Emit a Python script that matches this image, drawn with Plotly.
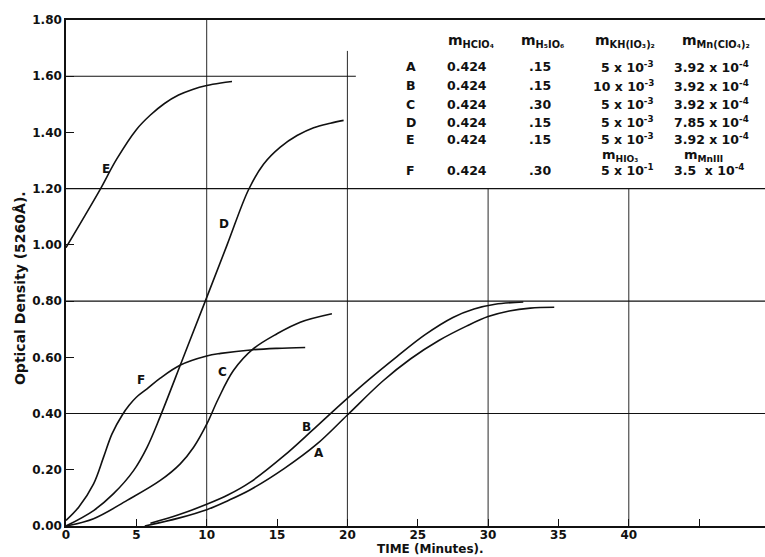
import plotly.graph_objects as go

# ---------------- data ----------------
tA = [5.6, 8, 10, 11.5, 13.1, 15.5, 17.8, 20, 22.5, 24.5, 26.5, 28.5, 30, 31.5, 33, 34.7]
yA = [0.0, 0.028, 0.058, 0.09, 0.129, 0.204, 0.29, 0.395, 0.515, 0.595, 0.66, 0.712, 0.745, 0.765, 0.775, 0.778]

tB = [6.0, 8, 10, 11.5, 13.1, 15.5, 17.5, 19.5, 21.5, 23.5, 25.5, 27.5, 29, 30.5, 32.5]
yB = [0.01, 0.04, 0.077, 0.11, 0.156, 0.25, 0.34, 0.432, 0.52, 0.602, 0.68, 0.742, 0.772, 0.789, 0.797]

tC = [0, 1.96, 4.34, 6.7, 8.12, 9.07, 10.02, 10.8, 11.9, 13.3, 15, 16.65, 18.9]
yC = [0.0, 0.026, 0.091, 0.162, 0.221, 0.28, 0.364, 0.45, 0.553, 0.63, 0.684, 0.725, 0.755]

tD = [0, 1.96, 3.38, 4.8, 5.76, 6.7, 8.3, 9.9, 11.45, 12.98, 14.05, 15.23, 16.42, 17.6, 18.79, 19.73]
yD = [0.0, 0.055, 0.115, 0.197, 0.28, 0.39, 0.595, 0.80, 1.0, 1.197, 1.288, 1.348, 1.389, 1.417, 1.433, 1.443]

tE = [0, 1, 2.4, 3.6, 5, 6, 7, 8, 9, 10, 11, 11.8]
yE = [0.99, 1.075, 1.195, 1.305, 1.41, 1.462, 1.503, 1.533, 1.553, 1.567, 1.576, 1.581]

tF = [0, 0.9, 1.96, 2.67, 3.27, 4.0, 4.5, 5.0, 5.76, 6.7, 8.1, 10.0, 11.0, 13.3, 15, 17]
yF = [0.02, 0.067, 0.15, 0.245, 0.328, 0.395, 0.43, 0.458, 0.488, 0.526, 0.572, 0.605, 0.614, 0.627, 0.632, 0.635]

curve_names = ["A", "B", "C", "D", "E", "F"]
label_t = [18.0, 17.1, 11.1, 11.2, 2.86, 5.3]
label_y = [0.259, 0.351, 0.547, 1.075, 1.271, 0.518]

y_tick_vals = [0.0, 0.2, 0.4, 0.6, 0.8, 1.0, 1.2, 1.4, 1.6, 1.8]
y_tick_text = ["0.00", "0.20", "0.40", "0.60", "0.80", "1.00", "1.20", "1.40", "1.60", "1.80"]
x_tick_vals = [0, 5, 10, 15, 20, 25, 30, 35, 40, 45]
x_tick_text = ["0", "5", "10", "15", "20", "25", "30", "35", "40", ""]

# conditions table
table_rows = ["A", "B", "C", "D", "E", "F"]
col_hclo4 = ["0.424", "0.424", "0.424", "0.424", "0.424", "0.424"]
col_h5io6 = [".15", ".15", ".30", ".15", ".15", ".30"]
col_kh = ["5 x 10<sup>-3</sup>", "10 x 10<sup>-3</sup>", "5 x 10<sup>-3</sup>",
          "5 x 10<sup>-3</sup>", "5 x 10<sup>-3</sup>", "5 x 10<sup>-1</sup>"]
col_mn = ["3.92 x 10<sup>-4</sup>", "3.92 x 10<sup>-4</sup>", "3.92 x 10<sup>-4</sup>",
          "7.85 x 10<sup>-4</sup>", "3.92 x 10<sup>-4</sup>", "3.5\u00a0\u00a0x 10<sup>-4</sup>"]
headers = ["m<sub>HClO₄</sub>", "m<sub>H₅IO₆</sub>", "m<sub>KH(IO₃)₂</sub>", "m<sub>Mn(ClO₄)₂</sub>"]
sub_headers = ["m<sub>HIO₃</sub>", "m<sub>MnIII</sub>"]

# ---------------- layout helpers ----------------
X_MAX = 49.68
FONT = "DejaVu Sans"
black = "#111111"

fig = go.Figure()
series = [(tA, yA), (tB, yB), (tC, yC), (tD, yD), (tE, yE), (tF, yF)]
for name, (t, y) in zip(curve_names, series):
    fig.add_trace(go.Scatter(x=t, y=y, mode="lines", name=name,
                             line=dict(color=black, width=1.6, shape="spline", smoothing=1.0),
                             showlegend=False, hoverinfo="skip"))

shapes = []
for yv, x0, x1 in [(0.4, 0, X_MAX), (0.8, 0, X_MAX), (1.2, 0, X_MAX), (1.6, 0, 20.6)]:
    shapes.append(dict(type="line", xref="x", yref="y", x0=x0, x1=x1, y0=yv, y1=yv,
                       line=dict(color=black, width=1.1), layer="below"))
for xv, y0, y1 in [(10, 0, 1.8), (20, 0, 1.69), (30, 0, 1.2), (40, 0, 1.2)]:
    shapes.append(dict(type="line", xref="x", yref="y", x0=xv, x1=xv, y0=y0, y1=y1,
                       line=dict(color=black, width=0.9), layer="below"))

ann = []
lab_font = dict(family=FONT, size=12, color=black, weight="bold")
for name, lt, ly in zip(curve_names, label_t, label_y):
    ann.append(dict(x=lt, y=ly, xref="x", yref="y", text=name, showarrow=False,
                    font=lab_font, xanchor="center", yanchor="middle"))

# table
row_y = [1.633, 1.566, 1.501, 1.437, 1.375, 1.265]
header_y = 1.727
sub_header_y = 1.318
tfont = dict(family=FONT, size=12.5, color=black, weight="bold")
hfont = dict(family=FONT, size=14, color=black, weight="bold")
sfont = dict(family=FONT, size=13, color=black, weight="bold")
for i in range(len(table_rows)):
    ann.append(dict(x=24.5, y=row_y[i], xref="x", yref="y", text=table_rows[i], showarrow=False,
                    font=tfont, xanchor="center", yanchor="middle"))
    ann.append(dict(x=28.5, y=row_y[i], xref="x", yref="y", text=col_hclo4[i], showarrow=False,
                    font=tfont, xanchor="center", yanchor="middle"))
    ann.append(dict(x=33.7, y=row_y[i], xref="x", yref="y", text=col_h5io6[i], showarrow=False,
                    font=tfont, xanchor="center", yanchor="middle"))
    ann.append(dict(x=41.9, y=row_y[i], xref="x", yref="y", text=col_kh[i], showarrow=False,
                    font=tfont, xanchor="right", yanchor="middle"))
    ann.append(dict(x=43.1, y=row_y[i], xref="x", yref="y", text=col_mn[i], showarrow=False,
                    font=tfont, xanchor="left", yanchor="middle"))
for hx, htxt in zip([28.8, 33.9, 39.7, 46.2], headers):
    ann.append(dict(x=hx, y=header_y, xref="x", yref="y", text=htxt, showarrow=False,
                    font=hfont, xanchor="center", yanchor="middle"))
for hx, htxt in zip([39.4, 45.3], sub_headers):
    ann.append(dict(x=hx, y=sub_header_y, xref="x", yref="y", text=htxt, showarrow=False,
                    font=sfont, xanchor="center", yanchor="middle"))

# axis titles
ann.append(dict(x=25.9, y=-0.0455, xref="x", yref="paper", text="TIME (Minutes).",
                showarrow=False, font=dict(family=FONT, size=12, color=black, weight="bold"),
                xanchor="center", yanchor="middle"))
ann.append(dict(x=-0.066, y=0.47, xref="paper", yref="paper", text="Optical Density (5260Å).",
                showarrow=False, textangle=-90,
                font=dict(family=FONT, size=14, color=black, weight="bold"),
                xanchor="center", yanchor="middle"))

fig.update_layout(
    width=765, height=557,
    margin=dict(l=66, r=0, t=20, b=31),
    paper_bgcolor="white", plot_bgcolor="white",
    shapes=shapes, annotations=ann,
    xaxis=dict(range=[0, X_MAX], tickvals=x_tick_vals, ticktext=x_tick_text,
               showgrid=False, zeroline=False, showline=True, linecolor=black, linewidth=1.5,
               mirror=True, ticks="inside", ticklen=7, tickwidth=1.2, tickcolor=black,
               ticklabelstandoff=-3,
               tickfont=dict(family=FONT, size=12, color=black, weight="bold")),
    yaxis=dict(range=[0, 1.8], tickvals=y_tick_vals, ticktext=y_tick_text,
               showgrid=False, zeroline=False, showline=True, linecolor=black, linewidth=1.5,
               ticks="inside", ticklen=8, tickwidth=1.2, tickcolor=black,
               tickfont=dict(family=FONT, size=12, color=black, weight="bold")),
)

fig.write_html("out.html", config={"displayModeBar": False},
               post_script="document.body.style.margin='0px';document.body.style.overflow='hidden';")
